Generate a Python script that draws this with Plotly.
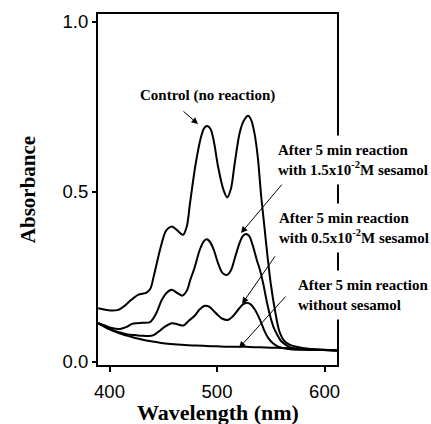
import plotly.graph_objects as go

# Control (no reaction)
ctrl_x = [389.5, 395, 402, 408, 414, 420, 427, 434, 438, 441, 447, 452, 455, 458.5, 462, 468.5, 472, 475, 480, 485, 488, 491, 494, 497, 501, 506, 509.5, 513, 516, 521, 525, 529, 532, 535, 538, 541, 544, 547, 550, 554, 558, 563, 568, 575, 585, 598, 611.5]
ctrl_y = [0.158, 0.154, 0.151, 0.153, 0.165, 0.182, 0.198, 0.203, 0.215, 0.25, 0.33, 0.383, 0.394, 0.398, 0.39, 0.374, 0.40, 0.47, 0.58, 0.66, 0.688, 0.694, 0.685, 0.65, 0.574, 0.506, 0.484, 0.51, 0.574, 0.673, 0.71, 0.724, 0.71, 0.67, 0.60, 0.49, 0.40, 0.31, 0.23, 0.15, 0.09, 0.06, 0.05, 0.044, 0.039, 0.036, 0.034]

# After 5 min reaction with 1.5x10^-2 M sesamol
s15_x = [389.5, 395, 402, 409.8, 416, 421, 425.3, 431, 437.7, 443, 448.6, 453, 457.9, 462, 467.7, 472, 475, 479, 484, 488, 490.4, 493, 497, 501, 505, 509, 513, 517, 521, 524, 527, 530, 533, 537, 540, 543, 546, 549, 552.4, 556, 560, 564, 568, 575, 585, 598, 611.5]
s15_y = [0.114, 0.108, 0.100, 0.097, 0.103, 0.112, 0.114, 0.115, 0.117, 0.14, 0.182, 0.203, 0.212, 0.205, 0.195, 0.21, 0.24, 0.276, 0.33, 0.356, 0.361, 0.355, 0.33, 0.29, 0.262, 0.256, 0.27, 0.31, 0.35, 0.37, 0.376, 0.37, 0.345, 0.30, 0.27, 0.23, 0.182, 0.14, 0.104, 0.08, 0.06, 0.05, 0.043, 0.039, 0.037, 0.035, 0.034]

# After 5 min reaction with 0.5x10^-2 M sesamol
s05_x = [389.5, 395, 402, 408, 414, 419, 423.7, 430, 436, 441, 446, 451.6, 458, 463, 468.7, 474, 479, 484, 488.8, 493, 497, 501, 505, 510.5, 515, 520, 524, 527.6, 531, 535, 540, 544, 547.7, 552, 557, 562, 568, 578, 590, 600, 611.5]
s05_y = [0.114, 0.105, 0.095, 0.088, 0.083, 0.080, 0.079, 0.077, 0.076, 0.079, 0.09, 0.104, 0.114, 0.111, 0.107, 0.122, 0.135, 0.155, 0.165, 0.162, 0.15, 0.137, 0.127, 0.124, 0.135, 0.155, 0.169, 0.174, 0.17, 0.155, 0.124, 0.092, 0.07, 0.055, 0.045, 0.040, 0.037, 0.036, 0.035, 0.035, 0.034]

# After 5 min reaction without sesamol
base_x = [389.5, 395, 400, 405, 412, 420, 430, 440, 450, 460, 470, 480, 490, 500, 510, 520, 530, 540, 550, 560, 570, 580, 590, 600, 611.5]
base_y = [0.114, 0.104, 0.096, 0.089, 0.081, 0.074, 0.066, 0.060, 0.055, 0.052, 0.050, 0.048, 0.047, 0.046, 0.045, 0.045, 0.044, 0.043, 0.042, 0.041, 0.040, 0.038, 0.037, 0.036, 0.034]

x_ticks = [400, 500, 600]
y_ticks = [0.0, 0.5, 1.0]
y_tick_text = ["0.0", "0.5", "1.0"]

x_title = "Wavelength (nm)"
y_title = "Absorbance"
label_ctrl = "Control (no reaction)"
label_15 = "After 5 min reaction<br>with 1.5x10<sup>-2</sup>M sesamol"
label_05 = "After 5 min reaction<br>with 0.5x10<sup>-2</sup>M sesamol"
label_0 = "After 5 min reaction<br>without sesamol"

fig = go.Figure()
for xs, ys in [(ctrl_x, ctrl_y), (s15_x, s15_y), (s05_x, s05_y), (base_x, base_y)]:
    fig.add_trace(go.Scatter(x=xs, y=ys, mode="lines",
                             line=dict(color="black", width=2, shape="spline", smoothing=0.8),
                             showlegend=False, hoverinfo="skip"))

serif = dict(family="Liberation Serif", size=15, color="black", weight="bold")

# text labels (white boxes hide the frame as in the original)
texts = [
    (label_ctrl, 490.7, 0.785, "center"),
    (label_15, 550.5, 0.594, "left"),
    (label_05, 551.3, 0.394, "left"),
    (label_0, 569.0, 0.197, "left"),
]
for t, x, y, anc in texts:
    fig.add_annotation(x=x, y=y, xref="x", yref="y", text=t, showarrow=False,
                       xanchor=anc, yanchor="middle", align="left", font=serif,
                       bgcolor="white" if anc == "left" else "rgba(0,0,0,0)", borderpad=6)

# arrows: (head x, head y, tail x, tail y)
arrows = [
    (482.3, 0.700, 467.4, 0.741),
    (522.3, 0.379, 561.4, 0.526),
    (523.3, 0.171, 554.9, 0.315),
    (520.5, 0.041, 565.1, 0.197),
]
for hx, hy, tx, ty in arrows:
    fig.add_annotation(x=hx, y=hy, ax=tx, ay=ty, xref="x", yref="y", axref="x", ayref="y",
                       text="", showarrow=True, arrowhead=2, arrowsize=1.3, arrowwidth=1,
                       arrowcolor="black")

# x-axis title placed as annotation for precise position
fig.add_annotation(x=0.5, y=0, xref="paper", yref="paper", text=x_title, showarrow=False,
                   xanchor="center", yanchor="middle", yshift=-47,
                   font=dict(family="Liberation Serif", size=22, color="black", weight="bold"))

fig.update_layout(
    width=431, height=424,
    margin=dict(l=98, r=94, t=14, b=59),
    paper_bgcolor="white", plot_bgcolor="white",
    xaxis=dict(range=[389.3, 611.6], tickvals=x_ticks, ticks="outside", ticklen=5,
               tickwidth=1.5, tickcolor="black", showline=True, mirror=True,
               linewidth=2, linecolor="black", showgrid=False, zeroline=False,
               ticklabelstandoff=4,
               tickfont=dict(family="Liberation Sans", size=18.5, color="black"),
               automargin=False),
    yaxis=dict(range=[-0.009, 1.0235], tickvals=y_ticks, ticktext=y_tick_text,
               ticks="outside", ticklen=4, tickwidth=1.5, tickcolor="black",
               showline=True, mirror=True, linewidth=2, linecolor="black",
               showgrid=False, zeroline=False,
               tickfont=dict(family="Liberation Sans", size=18.5, color="black"),
               title=dict(text=y_title, standoff=21,
                          font=dict(family="Liberation Serif", size=21, color="black", weight="bold")),
               automargin=False),
)

fig.write_html("out.html", config={"displayModeBar": False},
               post_script="document.body.style.margin='0';")
